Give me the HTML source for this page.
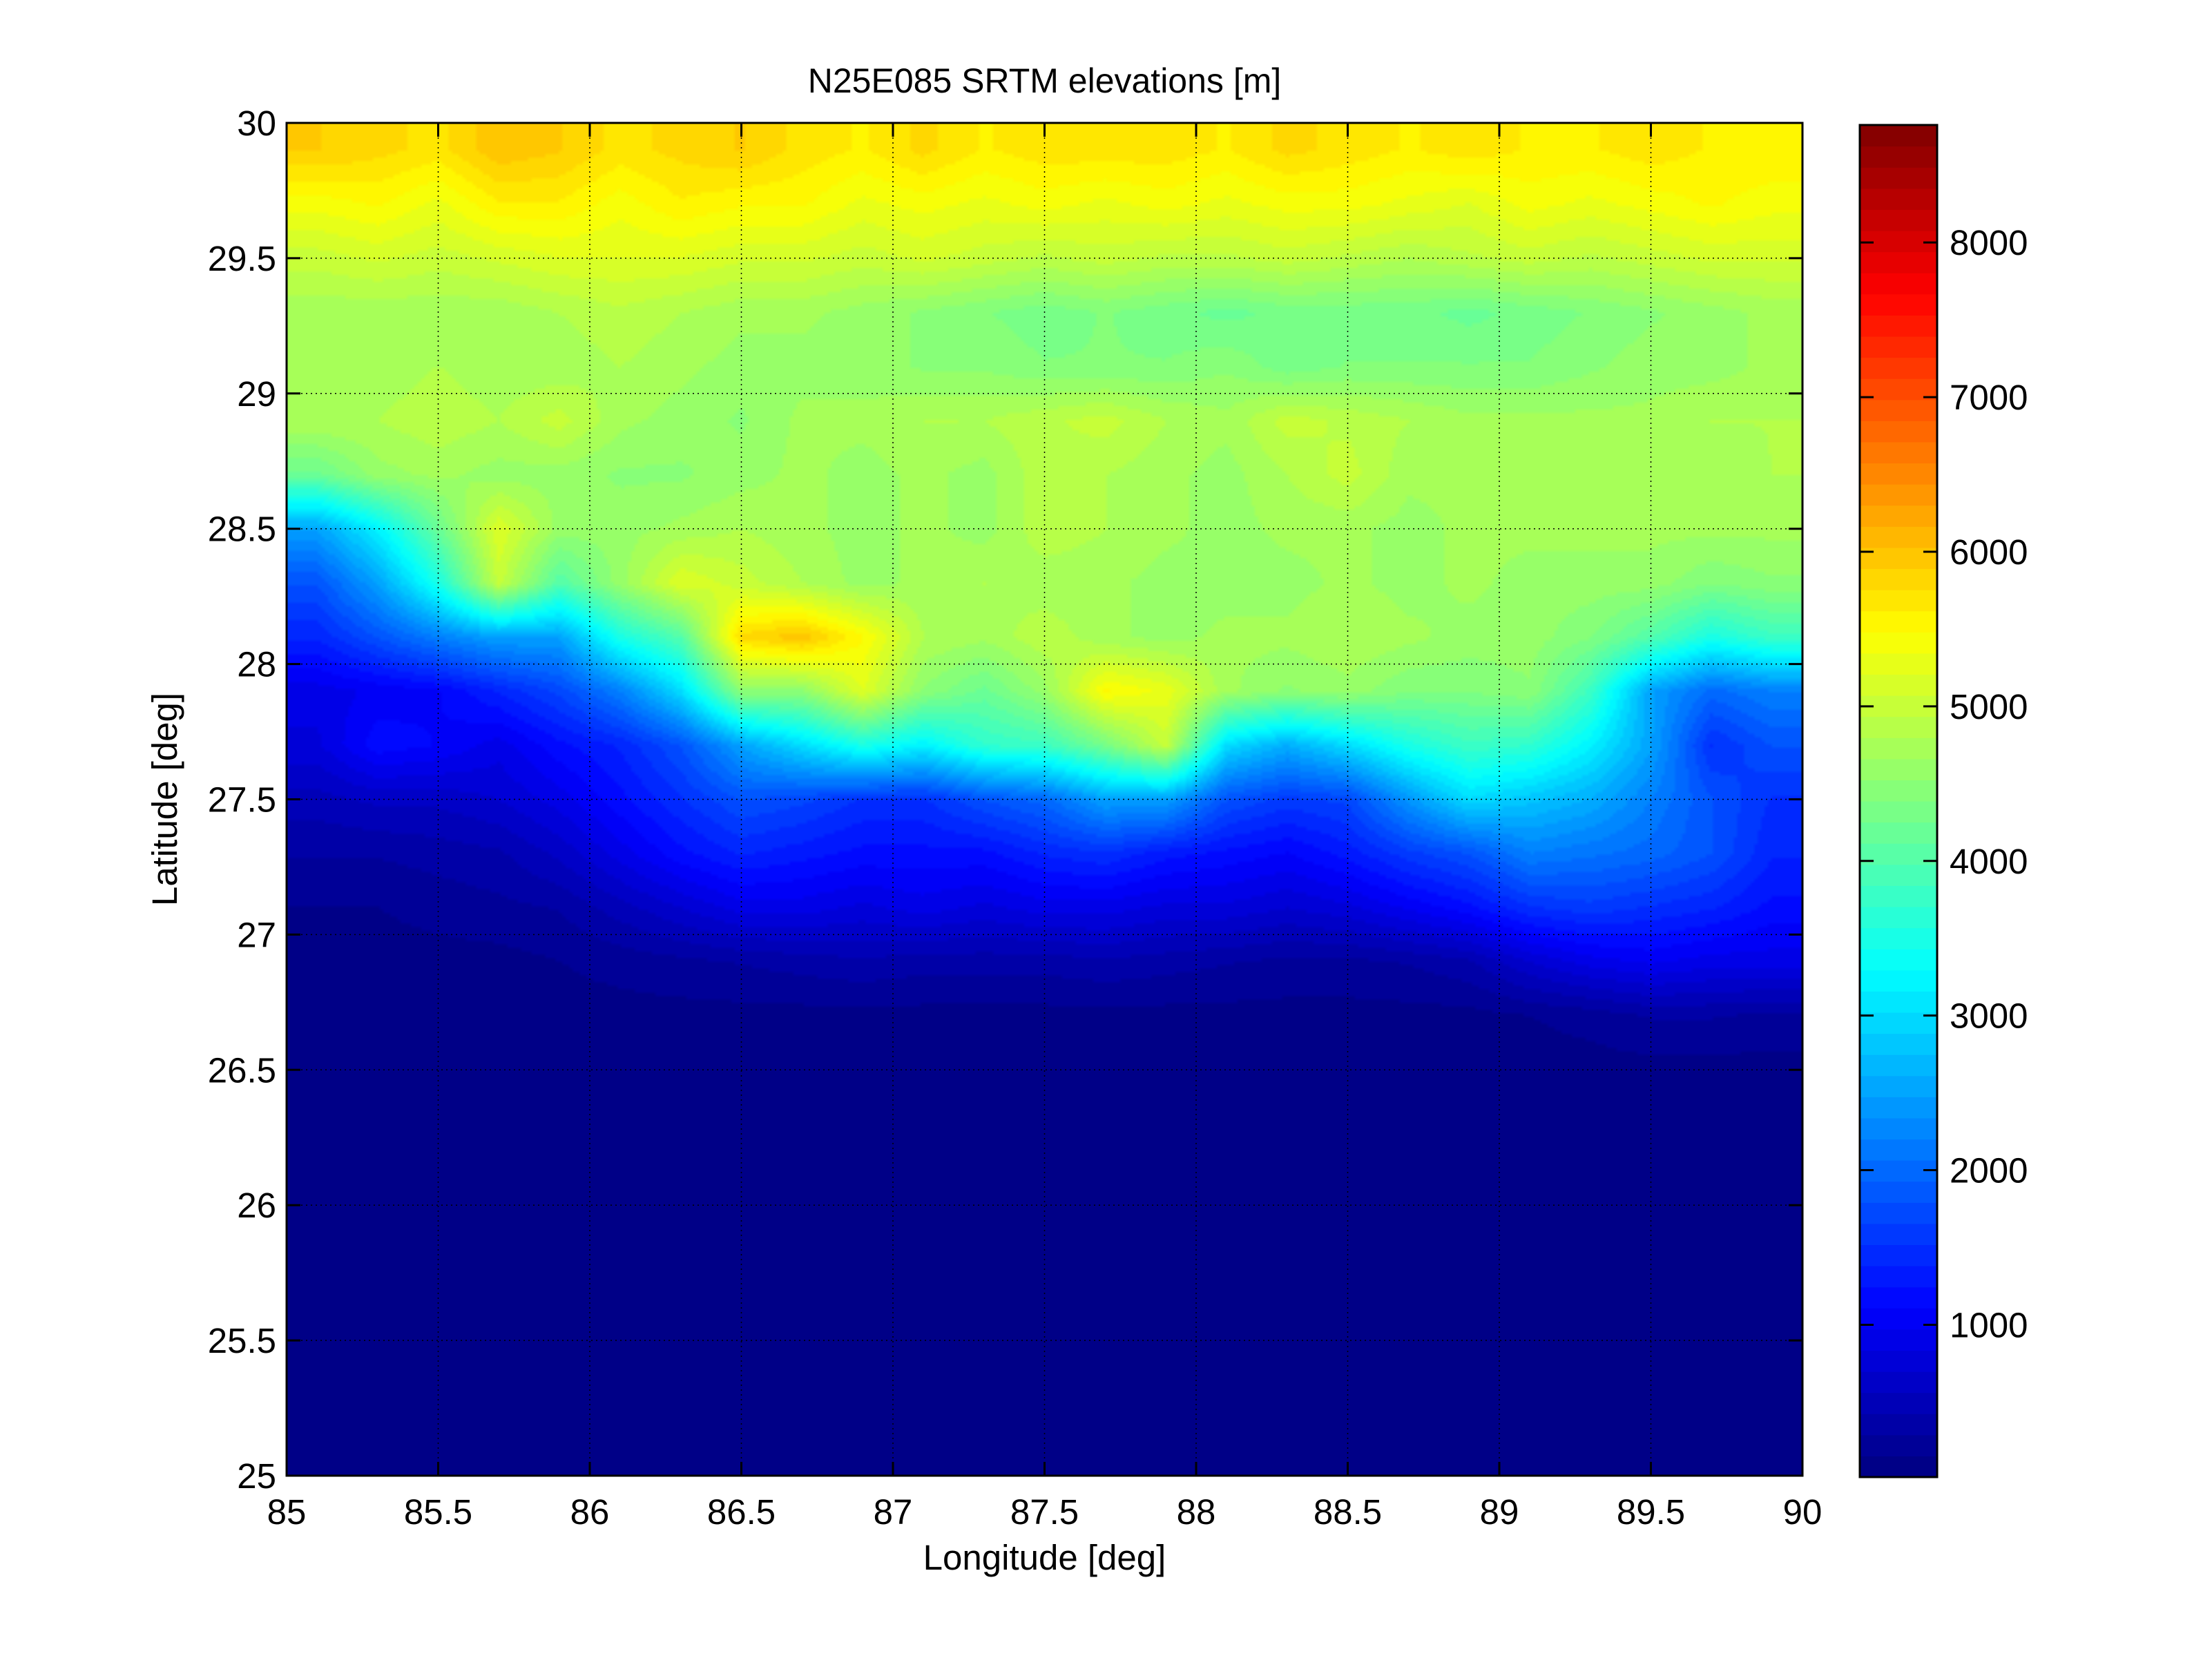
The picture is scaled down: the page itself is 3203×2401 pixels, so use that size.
<!DOCTYPE html>
<html><head><meta charset="utf-8"><style>
html,body{margin:0;padding:0;background:#fff;}
#wrap{position:relative;width:3203px;height:2401px;overflow:hidden;}
#heat{position:absolute;left:415px;top:178px;width:2195px;height:1959px;}
svg{position:absolute;left:0;top:0;}
text{font-family:"Liberation Sans",Arial,sans-serif;fill:#000;}
</style></head><body>
<div id="wrap">
<canvas id="heat" width="440" height="392"></canvas>
<svg id="svg" width="3203" height="2401"></svg>
</div>
<script>
// Data: elevation grid [m], rows from lat 30 (top) down in 0.2 deg steps, cols from lon 85 in 0.2 deg steps
const lonTicks = [85,85.5,86,86.5,87,87.5,88,88.5,89,89.5,90];
const latTicks = [30,29.5,29,28.5,28,27.5,27,26.5,26,25.5,25];
const latTickLabels = ["30","29.5","29","28.5","28","27.5","27","26.5","26","25.5","25"];
const lonTickLabels = ["85","85.5","86","86.5","87","87.5","88","88.5","89","89.5","90"];
const cbTicks = [1000,2000,3000,4000,5000,6000,7000,8000];
const elevRows = [
[5900,5800,5700,6000,5900,5700,5800,5900,5700,5600,5800,5600,5700,5700,5700,5600,5800,5700,5600,5700,5600,5600,5700,5600,5600],
[5400,5500,5300,5600,5600,5400,5600,5500,5500,5300,5400,5300,5400,5300,5400,5300,5400,5400,5300,5200,5400,5300,5400,5500,5400],
[5000,5100,5000,5100,5200,5200,5200,5100,5100,5000,5100,5000,4900,5000,4900,4900,5000,4900,4800,4900,5000,4900,5000,5100,5100],
[4700,4700,4700,4700,4800,4900,4800,4700,4700,4600,4500,4400,4300,4400,4300,4200,4300,4300,4300,4200,4300,4400,4500,4600,4700],
[4700,4700,4800,4700,4700,4800,4700,4600,4600,4600,4500,4500,4400,4400,4400,4500,4300,4400,4400,4400,4400,4500,4600,4600,4700],
[4800,4800,4900,4800,5000,4700,4600,4500,4700,4700,4800,4800,4900,5000,4800,4700,5000,4900,4800,4700,4700,4700,4700,4800,4800],
[4200,4600,4700,4600,4600,4500,4500,4600,4700,4600,4700,4600,4900,4800,4700,4600,4800,5000,4700,4700,4800,4700,4700,4700,4800],
[2500,3200,4200,5200,4600,4600,4700,4800,4700,4600,4700,4600,4900,4800,4700,4600,4700,4700,4600,4700,4700,4700,4700,4700,4700],
[1800,2500,3500,5000,4000,4600,5200,5000,4800,4600,4700,4800,4700,4700,4600,4600,4600,4700,4600,4700,4600,4600,4600,4400,4500],
[1400,1800,2200,2500,2500,3500,4000,5800,6000,5500,4800,4700,4900,4700,4600,4700,4700,4800,4700,4600,4600,4400,4000,3500,3800],
[900,1000,1100,1400,1700,2200,3000,4500,4500,5200,4500,4200,4600,5500,5300,4700,4500,4600,4400,4400,4500,3800,2500,2000,2200],
[800,1200,1100,900,1200,1400,1800,2500,3000,3500,3200,3700,3800,4300,5000,3000,2600,3000,3500,3800,3700,3200,2500,1500,1800],
[500,600,600,700,900,1200,1500,1800,1700,1500,1500,1800,2000,2500,2500,1800,1600,1700,2400,3000,2800,2600,2200,1800,1500],
[300,300,350,400,600,900,1200,1400,1300,1200,1200,1200,1400,1500,1300,1200,1100,1300,1600,1800,2200,2100,2000,1800,1400],
[150,150,200,250,300,500,700,900,900,800,900,800,900,900,800,800,700,800,1000,1200,1500,1600,1500,1400,1200],
[100,100,100,100,150,200,250,300,350,400,350,350,350,400,350,300,250,250,300,400,700,900,1000,900,900],
[95,95,95,95,100,100,100,100,100,100,100,100,100,100,100,100,100,100,100,100,150,200,300,300,250],
[95,95,95,95,95,95,95,95,95,95,95,95,95,95,95,95,95,95,95,95,95,95,95,95,95],
[95,95,95,95,95,95,95,95,95,95,95,95,95,95,95,95,95,95,95,95,95,95,95,95,95],
[95,95,95,95,95,95,95,95,95,95,95,95,95,95,95,95,95,95,95,95,95,95,95,95,95],
[95,95,95,95,95,95,95,95,95,95,95,95,95,95,95,95,95,95,95,95,95,95,95,95,95],
[95,95,95,95,95,95,95,95,95,95,95,95,95,95,95,95,95,95,95,95,95,95,95,95,95],
[95,95,95,95,95,95,95,95,95,95,95,95,95,95,95,95,95,95,95,95,95,95,95,95,95],
[95,95,95,95,95,95,95,95,95,95,95,95,95,95,95,95,95,95,95,95,95,95,95,95,95],
[95,95,95,95,95,95,95,95,95,95,95,95,95,95,95,95,95,95,95,95,95,95,95,95,95]
];
const cMin = 15, cMax = 8760;

const AX = {l:415, t:178, r:2610, b:2137};
const CB = {l:2693, t:181, r:2805, b:2139};
const xS = v => AX.l + (v-85)/(90-85)*(AX.r-AX.l);
const yS = v => AX.t + (30-v)/(30-25)*(AX.b-AX.t);
const cS = v => CB.b - (v-cMin)/(cMax-cMin)*(CB.b-CB.t);

function jet(t){
  t = Math.max(0, Math.min(1, t));
  const k = Math.min(63, Math.floor(t*64));
  const q = (k+0.5)/64;
  const c = x => Math.round(255*Math.max(0, Math.min(1, 1.5-Math.abs(x))));
  return [c(4*q-3), c(4*q-2), c(4*q-1)];
}

// heatmap
const cv = document.getElementById('heat');
const ctx = cv.getContext('2d');
const W = cv.width, H = cv.height;
const img = ctx.createImageData(W, H);
const nr = elevRows.length, nc = elevRows[0].length;
for (let py=0; py<H; py++){
  const fy = Math.max(0, Math.min(nr-1, (py+0.5)/H*nr - 0.5));
  const y0 = Math.floor(fy), y1 = Math.min(nr-1, y0+1), ty = fy-y0;
  for (let px=0; px<W; px++){
    const fx = Math.max(0, Math.min(nc-1, (px+0.5)/W*nc - 0.5));
    const x0 = Math.floor(fx), x1 = Math.min(nc-1, x0+1), tx = fx-x0;
    const v = (elevRows[y0][x0]*(1-tx)+elevRows[y0][x1]*tx)*(1-ty) + (elevRows[y1][x0]*(1-tx)+elevRows[y1][x1]*tx)*ty;
    const col = jet((v-cMin)/(cMax-cMin));
    const i = (py*W+px)*4;
    img.data[i]=col[0]; img.data[i+1]=col[1]; img.data[i+2]=col[2]; img.data[i+3]=255;
  }
}
ctx.putImageData(img, 0, 0);

const svg = document.getElementById('svg');
const NS = 'http://www.w3.org/2000/svg';
function mk(tag, attrs, parent){
  const e = document.createElementNS(NS, tag);
  for (const k in attrs) e.setAttribute(k, attrs[k]);
  (parent||svg).appendChild(e);
  return e;
}

// grid lines
lonTicks.forEach((v,i) => {
  const x = xS(v);
  if (i>0 && i<lonTicks.length-1){
    const g = mk('line',{x1:x,y1:AX.t,x2:x,y2:AX.b,stroke:'#000','stroke-width':1.5,'stroke-dasharray':'2 5'});
    
    
  }
  const t1 = mk('line',{x1:x,y1:AX.b,x2:x,y2:AX.b-20,stroke:'#000','stroke-width':3});
  
  
  const t2 = mk('line',{x1:x,y1:AX.t,x2:x,y2:AX.t+20,stroke:'#000','stroke-width':3});
  
  
  const lb = mk('text',{x:x,y:2207,'font-size':51,'text-anchor':'middle'});
  lb.textContent = lonTickLabels[i];
  
  
});
latTicks.forEach((v,i) => {
  const y = yS(v);
  if (i>0 && i<latTicks.length-1){
    const g = mk('line',{x1:AX.l,y1:y,x2:AX.r,y2:y,stroke:'#000','stroke-width':1.5,'stroke-dasharray':'2 5'});
    
    
  }
  const t1 = mk('line',{x1:AX.l,y1:y,x2:AX.l+20,y2:y,stroke:'#000','stroke-width':3});
  
  
  const t2 = mk('line',{x1:AX.r,y1:y,x2:AX.r-20,y2:y,stroke:'#000','stroke-width':3});
  
  
  const lb = mk('text',{x:400,y:y+18,'font-size':51,'text-anchor':'end'});
  lb.textContent = latTickLabels[i];
  
  
});
const frame = mk('rect',{x:AX.l,y:AX.t,width:AX.r-AX.l,height:AX.b-AX.t,fill:'none',stroke:'#000','stroke-width':3});



// colorbar
const bandH = (CB.b-CB.t)/64;
for (let k=0;k<64;k++){
  const col = jet((k+0.5)/64);
  const r = mk('rect',{x:CB.l,y:CB.b-(k+1)*bandH,width:CB.r-CB.l,height:bandH+0.6,fill:'rgb('+col.join(',')+')'});
  
  
}
cbTicks.forEach(v => {
  const y = cS(v);
  const t1 = mk('line',{x1:CB.l,y1:y,x2:CB.l+20,y2:y,stroke:'#000','stroke-width':3});
  
  
  const t2 = mk('line',{x1:CB.r,y1:y,x2:CB.r-20,y2:y,stroke:'#000','stroke-width':3});
  
  
  const lb = mk('text',{x:2823,y:y+18,'font-size':51});
  lb.textContent = String(v);
  
  
});
const cbf = mk('rect',{x:CB.l,y:CB.t,width:CB.r-CB.l,height:CB.b-CB.t,fill:'none',stroke:'#000','stroke-width':3});



// titles
const title = mk('text',{x:(AX.l+AX.r)/2,y:134,'font-size':50,'text-anchor':'middle'});
title.textContent = 'N25E085 SRTM elevations [m]';


const xl = mk('text',{x:(AX.l+AX.r)/2,y:2273,'font-size':51,'text-anchor':'middle'});
xl.textContent = 'Longitude [deg]';


const yl = mk('text',{x:0,y:0,'font-size':51,'text-anchor':'middle',transform:'translate(256,'+((AX.t+AX.b)/2)+') rotate(-90)'});
yl.textContent = 'Latitude [deg]';


</script>
</body></html>
